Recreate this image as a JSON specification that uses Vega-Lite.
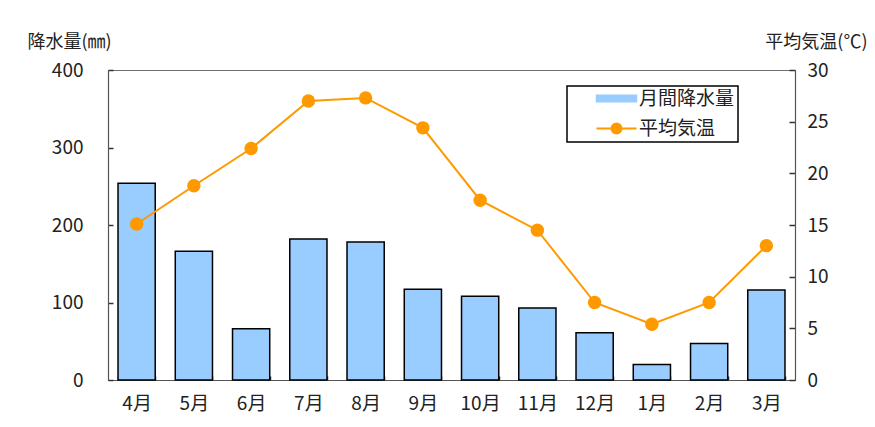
{
  "$schema": "https://vega.github.io/schema/vega-lite/v6.json",
  "width": 687,
  "height": 310,
  "autosize": {"type": "none"},
  "padding": {"left": 108, "top": 70, "right": 80, "bottom": 47},
  "background": "white",
  "config": {
    "font": "Noto Sans CJK JP",
    "view": {"stroke": "#707070", "strokeWidth": 1},
    "axis": {"grid": false, "domainColor": "#555555", "tickColor": "#333333", "tickWidth": 1.5, "labelColor": "#222222", "titleColor": "#222222", "domainWidth": 1.2},
    "legend": {
      "orient": "none", "legendX": 459, "legendY": 16, "title": null,
      "strokeColor": "black", "padding": 3, "rowPadding": 10,
      "labelFontSize": 19, "labelFont": "Noto Sans CJK JP", "labelColor": "#222222",
      "symbolSize": 400, "symbolOffset": 37, "labelOffset": 13
    }
  },
  "data": {
    "values": [
      {"month": "4月", "rain": 254, "temp": 15.1},
      {"month": "5月", "rain": 166, "temp": 18.8},
      {"month": "6月", "rain": 66, "temp": 22.4},
      {"month": "7月", "rain": 182, "temp": 27.0},
      {"month": "8月", "rain": 178, "temp": 27.3},
      {"month": "9月", "rain": 117, "temp": 24.4},
      {"month": "10月", "rain": 108, "temp": 17.4},
      {"month": "11月", "rain": 93, "temp": 14.5},
      {"month": "12月", "rain": 61, "temp": 7.5},
      {"month": "1月", "rain": 20, "temp": 5.4},
      {"month": "2月", "rain": 47, "temp": 7.5},
      {"month": "3月", "rain": 116, "temp": 13.0}
    ]
  },
  "encoding": {
    "x": {
      "field": "month", "type": "nominal", "sort": null,
      "scale": {"paddingInner": 0.35, "paddingOuter": 0.175},
      "axis": {"title": null, "labelAngle": 0, "labelFontSize": 19, "labelPadding": 18, "tickBand": "extent", "ticks": true, "tickSize": -4, "labelFont": "Noto Sans CJK JP"}
    }
  },
  "layer": [
    {
      "mark": {"type": "bar", "stroke": "black", "strokeWidth": 1.5},
      "encoding": {
        "y": {
          "field": "rain", "type": "quantitative",
          "scale": {"domain": [0, 400]},
          "axis": {
            "title": "降水量(㎜)", "titleAngle": 0, "titleAlign": "left", "titleBaseline": "top",
            "titleX": -81, "titleY": -37, "titleFontSize": 18, "titleFontWeight": "normal",
            "values": [0, 100, 200, 300, 400], "labelFontSize": 19, "labelFont": "Noto Sans CJK JP",
            "ticks": true, "tickSize": -5, "labelPadding": 30
          }
        },
        "color": {
          "datum": "月間降水量", "type": "nominal",
          "scale": {"domain": ["月間降水量", "平均気温"], "range": ["#99ccff", "#ff9900"]},
          "legend": {
            "symbolStrokeColor": "black",
            "encode": {
              "legend": {"update": {"strokeWidth": {"value": 1.5}}},
              "symbols": {
                "update": {
                  "shape": {"signal": "datum.value === '月間降水量' ? 'M-2,-0.33H2V0.33H-2Z' : 'M-2,0H2M0.5,0A0.5,0.5 0 1,1 -0.5,0A0.5,0.5 0 1,1 0.5,0'"},
                  "fill": {"signal": "datum.value === '月間降水量' ? '#99ccff' : '#ff9900'"},
                  "stroke": {"signal": "datum.value === '月間降水量' ? '#000000' : '#ff9900'"},
                  "strokeWidth": {"signal": "datum.value === '月間降水量' ? 1.5 : 2"},
                  "opacity": {"value": 1},
                  "fillOpacity": {"value": 1},
                  "strokeOpacity": {"value": 1}
                }
              }
            }
          }
        }
      }
    },
    {
      "encoding": {
        "y": {
          "field": "temp", "type": "quantitative",
          "scale": {"domain": [0, 30]},
          "axis": {
            "orient": "right",
            "title": "平均気温(℃)", "titleAngle": 0, "titleAlign": "right", "titleBaseline": "top",
            "titleX": 72, "titleY": -37, "titleFontSize": 18, "titleFontWeight": "normal",
            "values": [0, 5, 10, 15, 20, 25, 30], "labelFontSize": 19, "labelFont": "Noto Sans CJK JP",
            "ticks": true, "tickSize": -6, "labelPadding": 18
          }
        },
        "color": {
          "datum": "平均気温", "type": "nominal",
          "legend": {
            "symbolStrokeColor": "black",
            "encode": {
              "legend": {"update": {"strokeWidth": {"value": 1.5}}},
              "symbols": {
                "update": {
                  "shape": {"signal": "datum.value === '月間降水量' ? 'M-2,-0.33H2V0.33H-2Z' : 'M-2,0H2M0.5,0A0.5,0.5 0 1,1 -0.5,0A0.5,0.5 0 1,1 0.5,0'"},
                  "fill": {"signal": "datum.value === '月間降水量' ? '#99ccff' : '#ff9900'"},
                  "stroke": {"signal": "datum.value === '月間降水量' ? '#000000' : '#ff9900'"},
                  "strokeWidth": {"signal": "datum.value === '月間降水量' ? 1.5 : 2"},
                  "opacity": {"value": 1},
                  "fillOpacity": {"value": 1},
                  "strokeOpacity": {"value": 1}
                }
              }
            }
          }
        }
      },
      "layer": [
        {"mark": {"type": "line", "strokeWidth": 2}},
        {"mark": {"type": "point", "filled": true, "size": 180, "opacity": 1}}
      ]
    }
  ],
  "resolve": {"scale": {"y": "independent"}}
}
